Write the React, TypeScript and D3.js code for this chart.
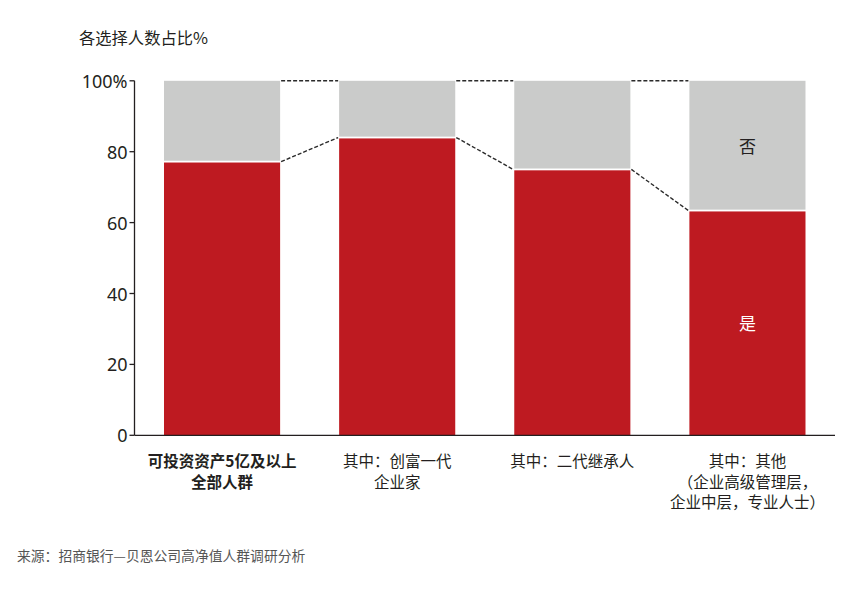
import React from 'react';
import * as d3 from 'd3';

// 各选择人数占比 (%): “是” share per group, remainder is “否”
const categories: string[][] = [
  ['可投资资产5亿及以上', '全部人群'],
  ['其中：创富一代', '企业家'],
  ['其中：二代继承人'],
  ['其中：其他', '（企业高级管理层，', '企业中层，专业人士）'],
];
const yesValues = [77.2, 84, 75, 63.4];
const yTicks = [0, 20, 40, 60, 80, 100];

const RED = '#be1a21';
const GRAY = '#cacbca';
const INK = '#231f20';
const CJK = '"Noto Sans CJK SC", "Noto Sans", sans-serif';
const NUM = '"Noto Sans", "Open Sans", sans-serif';

const width = 867;
const height = 592;
const axisX = 134.5;
const axisRight = 835;
const baseY = 435.3;

export default function App() {
  const x = d3
    .scaleBand<number>()
    .domain(d3.range(categories.length))
    .range([axisX, axisRight])
    .paddingInner(0.337)
    .paddingOuter(0.1685);

  const y = d3.scaleLinear().domain([0, 100]).range([baseY, 80.8]);
  const bw = x.bandwidth();

  const lastIdx = yesValues.length - 1;

  return (
    <div style={{ position: 'absolute', left: 0, top: 0 }}>
      <svg width={width} height={height} style={{ display: 'block', background: '#fff' }}>
        {/* title */}
        <text x={79} y={37} fontFamily={CJK} fontSize={16.3} fill={INK} dominantBaseline="central">
          各选择人数占比%
        </text>

        {/* bars */}
        {yesValues.map((v, i) => {
          const x0 = x(i) || 0;
          return (
            <g key={i}>
              <rect x={x0} y={y(100)} width={bw} height={y(v) - y(100) - 0.9} fill={GRAY} />
              <rect x={x0} y={y(v) + 0.9} width={bw} height={y(0) - y(v) - 0.9} fill={RED} />
            </g>
          );
        })}

        {/* dashed connectors */}
        {yesValues.slice(0, -1).map((v, i) => {
          const xa = (x(i) || 0) + bw;
          const xb = x(i + 1) || 0;
          return (
            <g key={'c' + i} stroke="#2a2a2a" strokeWidth={1.4} strokeDasharray="4,2" fill="none">
              <line x1={xa + 1} x2={xb - 1} y1={y(100)} y2={y(100)} />
              <line x1={xa + 1} x2={xb - 1} y1={y(v)} y2={y(yesValues[i + 1])} />
            </g>
          );
        })}

        {/* segment labels on last bar */}
        <text
          x={(x(lastIdx) || 0) + bw / 2}
          y={(y(100) + y(yesValues[lastIdx])) / 2}
          textAnchor="middle"
          dominantBaseline="central"
          fontFamily={CJK}
          fontSize={17}
          fill={INK}
        >
          否
        </text>
        <text
          x={(x(lastIdx) || 0) + bw / 2}
          y={(y(yesValues[lastIdx]) + y(0)) / 2}
          textAnchor="middle"
          dominantBaseline="central"
          fontFamily={CJK}
          fontSize={17}
          fill="#fff"
        >
          是
        </text>

        {/* y axis */}
        <line x1={axisX} x2={axisX} y1={y(100)} y2={baseY} stroke={INK} strokeWidth={1.3} />
        {yTicks.map((t) => (
          <g key={t}>
            <line x1={axisX - 5} x2={axisX} y1={y(t)} y2={y(t)} stroke={INK} strokeWidth={1.3} />
            <text
              x={axisX - 7}
              y={y(t)}
              textAnchor="end"
              dominantBaseline="central"
              fontFamily={NUM}
              fontSize={18}
              fill={INK}
            >
              {t === 100 ? '100%' : t}
            </text>
          </g>
        ))}

        {/* x axis */}
        <line x1={axisX} x2={axisRight} y1={baseY} y2={baseY} stroke={INK} strokeWidth={1.3} />
        {categories.map((lines, i) => (
          <text
            key={'l' + i}
            textAnchor="middle"
            fontFamily={CJK}
            fontSize={15.5}
            fontWeight={i === 0 ? 700 : 400}
            fill={INK}
          >
            {lines.map((ln, j) => (
              <tspan key={j} x={(x(i) || 0) + bw / 2} y={460 + j * 20.5} dominantBaseline="central">
                {ln}
              </tspan>
            ))}
          </text>
        ))}

        {/* source */}
        <text x={17} y={555} fontFamily={CJK} fontSize={13.8} fill="#555" dominantBaseline="central">
          来源：招商银行—贝恩公司高净值人群调研分析
        </text>
      </svg>
    </div>
  );
}
